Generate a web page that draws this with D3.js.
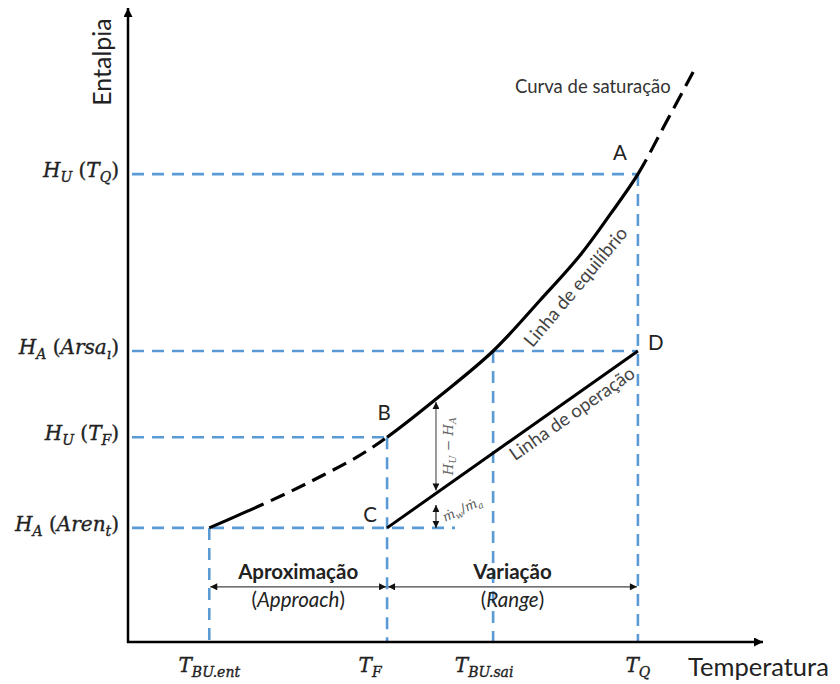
<!DOCTYPE html>
<html><head><meta charset="utf-8">
<script src="https://cdn.jsdelivr.net/npm/d3@7"></script>
<style>body{margin:0;background:#fff}svg{display:block}</style>
</head><body><svg id="c" width="840" height="684"></svg>
<script>
// ---- data ----
const satT = [12.8,19.2,25.5,30.7,36.1,40.8,49.1,57.5,64.9,71.2,75.9,80.3,84.6,89.0];
const satH = [18.0,20.8,23.7,26.3,29.2,32.3,38.8,45.9,53.9,61.0,67.4,73.8,81.7,89.9];
const satBreaks = [19.2, 40.8, 80.3];   // solid | dashed | solid | dashed
const opT = [40.8, 80.3];
const opH = [18.0, 45.9];
const xTickValues = [12.8, 40.8, 57.5, 80.3];
const xTickLabels = [[["T",0],["BU.ent",1]],[["T",0],["F",1]],[["T",0],["BU.sai",1]],[["T",0],["Q",1]]];
const yTickValues = [73.8, 45.9, 32.3, 18.0];
const yTickLabels = [
  [["H",0],["U",1],[" (",2],["T",0],["Q",1],[")",2]],
  [["H",0],["A",1],[" (",2],["Arsa",0],["ı",1],[")",2]],
  [["H",0],["U",1],[" (",2],["T",0],["F",1],[")",2]],
  [["H",0],["A",1],[" (",2],["Aren",0],["t",1],[")",2]]
];
const hRefTo = [80.3, 80.3, 40.8, 51.5];      // horizontal guide end (temperature)
const vRefT = [12.8, 40.8, 57.5, 80.3];        // vertical guide positions
const vRefH = [18.0, 32.3, 45.9, 73.8];
const pointNames = ["A","B","C","D"];
const pointT = [80.3, 40.8, 40.8, 80.3];
const pointH = [73.8, 32.3, 18.0, 45.9];
const rangeTitles = ["Aproximação","Variação"];
const rangeSub = ["Approach","Range"];
const rangeFrom = [12.8, 40.8];
const rangeTo = [40.8, 80.3];
const rangeH = 8.7;
const diffT = 48.5;        // H_U - H_A annotation temperature
const ratioH = [21.6, 18.0];

// ---- setup ----
const svg = d3.select("#c");
svg.append("rect").attr("width",840).attr("height",684).attr("fill","#fff");
const x = d3.scaleLinear().domain([0,100]).range([128,763]);
const y = d3.scaleLinear().domain([0,100]).range([642,8]);
const BLUE = "#5b9bd5";
const SANS = "Lato, 'Open Sans', sans-serif";
const SERIF = "'DejaVu Serif', 'Liberation Serif', serif";

const defs = svg.append("defs");
function marker(id, w, h, color){
  defs.append("marker").attr("id",id).attr("viewBox","0 0 10 10")
    .attr("refX",10).attr("refY",5).attr("markerWidth",w).attr("markerHeight",h)
    .attr("markerUnits","userSpaceOnUse").attr("orient","auto-start-reverse")
    .append("path").attr("d","M0,0L10,5L0,10z").attr("fill",color);
}
marker("axArrow", 11, 9, "#000");
marker("smArrow", 8, 7, "#111");

function rich(sel, parts, base, sub, dyS){
  let off = 0;
  parts.forEach(([s,t])=>{
    const ts = sel.append("tspan").text(s);
    if (t===1){ ts.attr("font-size",sub).attr("dy", dyS-off); off = dyS; ts.attr("font-style","italic"); }
    else { ts.attr("font-size",base).attr("dy", -off); off = 0; ts.attr("font-style", t===2 ? "normal":"italic"); }
  });
}

// ---- guides ----
const g = svg.append("g").attr("stroke",BLUE).attr("stroke-width",2.6).attr("stroke-dasharray","12,8").attr("fill","none");
yTickValues.forEach((h,i)=>{
  g.append("line").attr("x1",x(0)+4).attr("x2",x(hRefTo[i])).attr("y1",y(h)).attr("y2",y(h));
});
vRefT.forEach((t,i)=>{
  g.append("line").attr("x1",x(t)).attr("x2",x(t)).attr("y1",y(vRefH[i])).attr("y2",y(0));
});

// ---- axes ----
svg.append("line").attr("x1",x(0)).attr("x2",x(0)).attr("y1",y(0)+1).attr("y2",y(100))
  .attr("stroke","#000").attr("stroke-width",2.5).attr("marker-end","url(#axArrow)");
svg.append("line").attr("x1",x(0)-1).attr("x2",x(100)).attr("y1",y(0)).attr("y2",y(0))
  .attr("stroke","#000").attr("stroke-width",2.5).attr("marker-end","url(#axArrow)");

// ---- saturation curve (one smooth path, dash pattern by segment) ----
const pts = satT.map((t,i)=>[t,satH[i]]);
const smooth = d3.line().x(d=>x(d[0])).y(d=>y(d[1])).curve(d3.curveCatmullRom.alpha(0.5));
const straight = d3.line().x(d=>x(d[0])).y(d=>y(d[1]));
const sat = svg.append("path").attr("d", smooth(pts)).attr("fill","none")
  .attr("stroke","#000").attr("stroke-width",3.2);
const node = sat.node(), L = node.getTotalLength();
function lenAtX(px){ let lo=0, hi=L; for(let k=0;k<40;k++){ const m=(lo+hi)/2; if(node.getPointAtLength(m).x<px) lo=m; else hi=m; } return (lo+hi)/2; }
const bl = [0, ...satBreaks.map(t=>lenAtX(x(t))), L];
const arr = [];
function solid(a,b){ arr.push(b-a, 0); }
function dashed(a,b,d,gp){ let p=a; while(p<b-0.01){ const dd=Math.min(d,b-p); arr.push(dd); p+=dd; const gg=Math.min(gp,b-p); arr.push(gg); p+=gg; } }
solid(bl[0],bl[1]); dashed(bl[1],bl[2],15,8); solid(bl[2],bl[3]); dashed(bl[3],bl[4],17,8);
sat.attr("stroke-dasharray", arr.map(v=>v.toFixed(2)).join(","));

// operating line
svg.append("path").attr("d", straight(opT.map((t,i)=>[t,opH[i]]))).attr("fill","none")
  .attr("stroke","#000").attr("stroke-width",3);

// ---- range arrows ----
rangeFrom.forEach((f,i)=>{
  svg.append("line").attr("x1",x(f)+1).attr("x2",x(rangeTo[i])-1).attr("y1",y(rangeH)).attr("y2",y(rangeH))
    .attr("stroke","#444").attr("stroke-width",1.4)
    .attr("marker-start","url(#smArrow)").attr("marker-end","url(#smArrow)");
  const cx = (x(f)+x(rangeTo[i]))/2;
  svg.append("text").attr("x",cx).attr("y",y(rangeH)-8).attr("text-anchor","middle")
    .attr("font-family",SANS).attr("font-weight","bold").attr("font-size",20.5).attr("fill","#222").text(rangeTitles[i]);
  const t2 = svg.append("text").attr("x",cx).attr("y",y(rangeH)+20).attr("text-anchor","middle")
    .attr("font-family",SANS).attr("font-size",20.5).attr("fill","#222");
  t2.append("tspan").text("(");
  t2.append("tspan").attr("font-style","italic").text(rangeSub[i]);
  t2.append("tspan").text(")");
});

// ---- difference annotations ----
const satAt = t => { const i = d3.bisectRight(satT,t)-1; const f=(t-satT[i])/(satT[i+1]-satT[i]); return satH[i]+f*(satH[i+1]-satH[i]); };
const opAt = t => opH[0] + (t-opT[0])/(opT[1]-opT[0])*(opH[1]-opH[0]);
svg.append("line").attr("x1",x(diffT)).attr("x2",x(diffT)).attr("y1",y(satAt(diffT))+3).attr("y2",y(opAt(diffT))-3)
  .attr("stroke","#666").attr("stroke-width",1.3)
  .attr("marker-start","url(#smArrow)").attr("marker-end","url(#smArrow)");
const dt = svg.append("text").attr("transform",`translate(${x(diffT)+17},${(y(satAt(diffT))+y(opAt(diffT)))/2}) rotate(-90)`)
  .attr("text-anchor","middle").attr("font-family",SERIF).attr("fill","#666");
rich(dt, [["H",0],["U",1],[" − ",2],["H",0],["A",1]], 13.5, 9.5, 3);
svg.append("line").attr("x1",x(diffT)).attr("x2",x(diffT)).attr("y1",y(ratioH[0])).attr("y2",y(ratioH[1]))
  .attr("stroke","#333").attr("stroke-width",1.3)
  .attr("marker-start","url(#smArrow)").attr("marker-end","url(#smArrow)");
const rt = svg.append("text").attr("transform",`translate(${x(diffT)+28},${y(ratioH[0])+8}) rotate(-25)`)
  .attr("text-anchor","middle").attr("font-family",SERIF).attr("fill","#555");
rich(rt, [["ṁ",0],["w",1],["/",2],["ṁ",0],["a",1]], 13, 9, 3);

// ---- curve labels ----
svg.append("text").attr("transform","translate(577,288) rotate(-50)").attr("text-anchor","middle")
  .attr("dominant-baseline","middle").attr("font-family",SANS).attr("font-size",18.5).attr("fill","#444").text("Linha de equilíbrio");
svg.append("text").attr("transform","translate(573,415) rotate(-35)").attr("text-anchor","middle")
  .attr("dominant-baseline","middle").attr("font-family",SANS).attr("font-size",18.5).attr("fill","#444").text("Linha de operação");
svg.append("text").attr("x",515).attr("y",93).attr("font-family",SANS).attr("font-size",18.5).attr("fill","#333").text("Curva de saturação");

// ---- point labels ----
const pdx = [-18,-3,-17,18], pdy = [-14,-17,-6,-1];
pointNames.forEach((n,i)=>{
  svg.append("text").attr("x",x(pointT[i])+pdx[i]).attr("y",y(pointH[i])+pdy[i]).attr("text-anchor","middle")
    .attr("font-family",SANS).attr("font-size",20.5).attr("fill","#222").text(n);
});

// ---- tick labels ----
yTickValues.forEach((h,i)=>{
  const t = svg.append("text").attr("x",119).attr("y",y(h)+3).attr("text-anchor","end")
    .attr("font-family",SERIF).attr("fill","#222").attr("stroke","#222").attr("stroke-width",0.35);
  rich(t, yTickLabels[i], 20, 14, 5);
});
const xdx = [0,-17,-9,0];
xTickValues.forEach((v,i)=>{
  const t = svg.append("text").attr("x",x(v)+xdx[i]).attr("y",672).attr("text-anchor","middle")
    .attr("font-family",SERIF).attr("fill","#222").attr("stroke","#222").attr("stroke-width",0.35);
  rich(t, xTickLabels[i], 20, 14, 5);
});

// ---- axis titles ----
svg.append("text").attr("transform","translate(111,62) rotate(-90)").attr("text-anchor","middle")
  .attr("font-family",SANS).attr("font-size",25).attr("fill","#222").text("Entalpia");
svg.append("text").attr("x",688).attr("y",676).attr("font-family",SANS).attr("font-size",25.5).attr("fill","#222").text("Temperatura");
</script></body></html>
